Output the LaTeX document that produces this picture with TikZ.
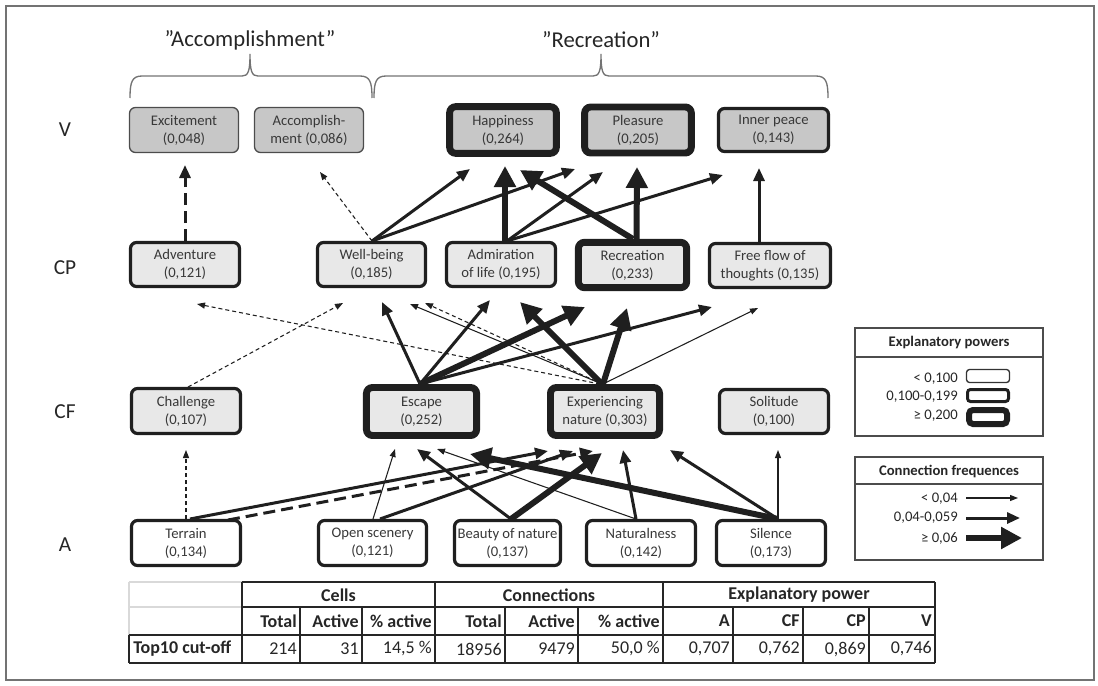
\documentclass[tikz,border=0pt]{standalone}
\usepackage{fontspec}
\setmainfont{Carlito}
\usetikzlibrary{arrows.meta,calc}
\newcommand\fnNode{\fontsize{11}{13.5}\selectfont}
\newcommand\fnRow{\fontsize{16}{19}\selectfont}
\newcommand\fnTitle{\fontsize{17}{20}\selectfont}
\newcommand\fnLeg{\fontsize{11}{13}\selectfont}
\newcommand\fnTab{\fontsize{13.5}{16}\selectfont}

\begin{document}
% one coordinate unit = 0.75pt, y axis pointing down
\begin{tikzpicture}[x=0.75pt,y=-0.75pt,
  cellbox/.style={rounded corners=4.5pt, align=center, font=\fnNode, text=black!78, inner sep=0pt},
  epLow/.style={draw=black!70, line width=1pt},
  epMid/.style={draw=black!88, line width=2.4pt},
  epHigh/.style={draw=black!88, line width=5.2pt},
  vfill/.style={fill=black!22},
  cfill/.style={fill=black!9},
  afill/.style={fill=white},
  con/.style={draw=black!88},
  conThin/.style={con, line width=0.8pt, -{Triangle[length=6pt,width=4.5pt]}},
  conMed/.style={con, line width=2.25pt, -{Triangle[length=9.75pt,width=8.25pt]}},
  conBig/.style={con, line width=4.5pt, -{Triangle[length=15.75pt,width=15.75pt]}},
  dashThin/.style={dash pattern=on 3pt off 2.25pt},
  dashMed/.style={dash pattern=on 9pt off 4.5pt},
  brace/.style={draw=black!55, line width=1pt},
  rowlab/.style={font=\fnRow, text=black!85},
  leglab/.style={font=\fnLeg, text=black!85, anchor=east, inner sep=0pt},
  legbox/.style={draw=black!70, line width=1pt},
  tabtxt/.style={font=\fnTab, text=black!85, inner sep=0pt},
  tabr/.style={tabtxt, anchor=east},
  tabThick/.style={draw=black!85, line width=2pt},
  tabThin/.style={draw=black!85, line width=1.2pt},
  tabLight/.style={draw=black!15, line width=1.1pt}
]
\useasboundingbox (0,0) rectangle (1098,685);
\draw[black!55, line width=1.1pt] (6,6) rectangle (1094,680);

% group titles and braces
\node[font=\fnTitle, text=black!85] (tAcc) at (250,40) {”Accomplishment”};
\node[font=\fnTitle, text=black!85] (tRec) at (601,40) {”Recreation”};
\draw[brace] (130,98) .. controls (130,82) and (132,76) .. (142,76) -- (242,76)
  .. controls (248,76) and (250,72) .. (250,54) .. controls (250,72) and (252,76) .. (258,76)
  -- (360,76) .. controls (370,76) and (372,82) .. (372,98);
\draw[brace] (374,98) .. controls (374,82) and (376,76) .. (386,76) -- (593,76)
  .. controls (599,76) and (601,72) .. (601,54) .. controls (601,72) and (603,76) .. (609,76)
  -- (816,76) .. controls (826,76) and (828,82) .. (828,98);

% level labels
\node[rowlab] (lV) at (65,130) {V};
\node[rowlab] (lCP) at (65,268) {CP};
\node[rowlab] (lCF) at (65,412) {CF};
\node[rowlab] (lA) at (65,545) {A};

% values
\node[cellbox,epLow,vfill,minimum width=81.75pt,minimum height=33.75pt] (exc) at (184,130) {Excitement\\(0,048)};
\node[cellbox,epLow,vfill,minimum width=81.75pt,minimum height=33.75pt] (acc) at (309,130) {Accomplish-\\ment (0,086)};
\node[cellbox,epHigh,vfill,minimum width=80pt,minimum height=35pt] (hap) at (503,130) {Happiness\\(0,264)};
\node[cellbox,epHigh,vfill,minimum width=80pt,minimum height=34.5pt] (ple) at (638,130) {Pleasure\\(0,205)};
\node[cellbox,epMid,vfill,minimum width=82.5pt,minimum height=32.25pt] (ip) at (773.5,130) {Inner peace\\(0,143)};

% consequences, psychological
\node[cellbox,epMid,cfill,minimum width=81.75pt,minimum height=33pt] (adv) at (185,264.5) {Adventure\\(0,121)};
\node[cellbox,epMid,cfill,minimum width=81pt,minimum height=33pt] (wb) at (371.5,264.5) {Well-being\\(0,185)};
\node[cellbox,epMid,cfill,minimum width=81.75pt,minimum height=33pt] (adm) at (501,264.5) {Admiration\\of life (0,195)};
\node[cellbox,epHigh,cfill,minimum width=81.2pt,minimum height=34pt] (rec) at (632.5,265) {Recreation\\(0,233)};
\node[cellbox,epMid,cfill,minimum width=90.75pt,minimum height=33pt] (ff) at (770,265.5) {Free flow of\\thoughts (0,135)};

% consequences, functional
\node[cellbox,epMid,cfill,minimum width=81.75pt,minimum height=33.75pt] (cha) at (186,411) {Challenge\\(0,107)};
\node[cellbox,epHigh,cfill,minimum width=82.6pt,minimum height=36pt] (esc) at (421.5,411.5) {Escape\\(0,252)};
\node[cellbox,epHigh,cfill,minimum width=81.8pt,minimum height=36pt] (exp) at (605,411.5) {Experiencing\\nature (0,303)};
\node[cellbox,epMid,cfill,minimum width=81.75pt,minimum height=33pt] (sol) at (774,411.5) {Solitude\\(0,100)};

% attributes
\node[cellbox,epMid,afill,minimum width=81.75pt,minimum height=33.75pt] (ter) at (186,543) {Terrain\\(0,134)};
\node[cellbox,epMid,afill,minimum width=81pt,minimum height=33.75pt] (ops) at (372.5,543) {Open scenery\\(0,121)};
\node[cellbox,epMid,afill,minimum width=79.5pt,minimum height=33.75pt] (bea) at (507.5,543) {Beauty of nature\\(0,137)};
\node[cellbox,epMid,afill,minimum width=81.75pt,minimum height=33.75pt] (nat) at (641,543) {Naturalness\\(0,142)};
\node[cellbox,epMid,afill,minimum width=81.75pt,minimum height=33.75pt] (sil) at (771,543) {Silence\\(0,173)};

% CP -> V
\draw[conMed,dashMed] ($(adv)+(0,-23.5)$) -- ($(exc)+(1,35)$);
\draw[conThin,dashThin] ($(wb)+(0.5,-23.5)$) -- ($(acc)+(11,42)$);
\draw[conMed] ($(wb)+(0.5,-23.5)$) -- ($(hap)+(-33,39)$);
\draw[conMed] ($(wb)+(0.5,-23.5)$) -- ($(ple)+(-63,39)$);
\draw[conBig] ($(adm)+(4,-23.5)$) -- ($(hap)+(2,36)$);
\draw[conMed] ($(adm)+(6,-23.5)$) -- ($(ple)+(-35,42)$);
\draw[conMed] ($(adm)+(6,-23.5)$) -- ($(ip)+(-50.5,45)$);
\draw[conBig] ($(rec)+(0.5,-26)$) -- ($(hap)+(17,40)$);
\draw[conBig] ($(rec)+(4,-26)$) -- ($(ple)+(-1,37)$);
\draw[conMed] ($(ff)+(-11,-23.5)$) -- ($(ip)+(-14.5,38)$);

% CF -> CP
\draw[conThin,dashThin] ($(cha)+(2,-24)$) -- ($(wb)+(-28.5,38.5)$);
\draw[conThin,dashThin] ($(exp)+(-5,-27.5)$) -- ($(adv)+(12,39.5)$);
\draw[conMed] ($(esc)+(-1.5,-27.5)$) -- ($(wb)+(10.5,37.5)$);
\draw[conMed] ($(esc)+(-1.5,-27.5)$) -- ($(adm)+(-11,35.5)$);
\draw[conBig] ($(esc)+(-1.5,-27.5)$) -- ($(rec)+(-47.5,42)$);
\draw[conMed] ($(esc)+(-1.5,-27.5)$) -- ($(ff)+(-58,41.5)$);
\draw[conThin] ($(exp)+(-3,-27.5)$) -- ($(wb)+(38.5,39.5)$);
\draw[conThin,dashThin] ($(exp)+(-3,-27.5)$) -- ($(wb)+(53.5,38.5)$);
\draw[conBig] ($(exp)+(-3,-27.5)$) -- ($(adm)+(19,37.5)$);
\draw[conBig] ($(exp)+(-2,-27.5)$) -- ($(rec)+(-5.5,43)$);
\draw[conThin] ($(exp)+(-2,-27.5)$) -- ($(ff)+(-12,42.5)$);

% A -> CF
\draw[conThin,dashThin] ($(ter)+(0,-24)$) -- ($(cha)+(0,39)$);
\draw[conMed,dashMed] ($(ter)+(42,-23)$) -- ($(exp)+(-12,39.5)$);
\draw[conMed] ($(ter)+(4,-24)$) -- ($(exp)+(-57,39.5)$);
\draw[conThin] ($(ops)+(0.5,-24)$) -- ($(esc)+(-26.5,37.5)$);
\draw[conMed] ($(ops)+(7.5,-24)$) -- ($(exp)+(-32,39.5)$);
\draw[conMed] ($(bea)+(3.5,-24)$) -- ($(esc)+(-4.5,37.5)$);
\draw[conBig] ($(bea)+(3.5,-24)$) -- ($(exp)+(-3,41.5)$);
\draw[conThin] ($(nat)+(-5,-24)$) -- ($(esc)+(15.5,37.5)$);
\draw[conMed] ($(nat)+(-5,-24)$) -- ($(exp)+(18,38.5)$);
\draw[conBig] ($(sil)+(7,-24)$) -- ($(esc)+(48.5,42.5)$);
\draw[conMed] ($(sil)+(7,-24)$) -- ($(exp)+(65,38.5)$);
\draw[conThin] ($(sil)+(7,-24)$) -- ($(sol)+(4,38.5)$);

% legend: explanatory powers
\draw[legbox] (855,328) rectangle (1043,436);
\draw[legbox] (855,357) -- (1043,357);
\node[font=\fnLeg\bfseries, text=black!85] (lgT1) at (949,343) {Explanatory powers};
\node[leglab] (lgE1) at (958,379) {< 0,100};
\node[leglab] (lgE2) at (958,397) {0,100-0,199};
\node[leglab] (lgE3) at (958,416) {≥ 0,200};
\node[draw=black!80, line width=1pt, rounded corners=2.25pt, minimum width=32.25pt, minimum height=9.75pt, inner sep=0pt] (lgB1) at (988,376) {};
\node[draw=black!88, line width=2.25pt, rounded corners=2.25pt, minimum width=30.75pt, minimum height=9pt, inner sep=0pt] (lgB2) at (988,395.5) {};
\node[draw=black!88, line width=4.5pt, rounded corners=3pt, minimum width=28.5pt, minimum height=10.5pt, inner sep=0pt] (lgB3) at (988,417) {};

% legend: connection frequences
\draw[legbox] (855,457) rectangle (1043,560);
\draw[legbox] (855,484) -- (1043,484);
\node[font=\fnLeg\bfseries, text=black!85] (lgT2) at (949,471) {Connection frequences};
\node[leglab] (lgC1) at (958,499) {< 0,04};
\node[leglab] (lgC2) at (958,518) {0,04-0,059};
\node[leglab] (lgC3) at (958,538) {≥ 0,06};
\coordinate (la1) at (966,498); \coordinate (lb1) at (1018,498);
\coordinate (la2) at (966,518); \coordinate (lb2) at (1020,518);
\coordinate (la3) at (966,538); \coordinate (lb3) at (1022,538);
\draw[conThin] (la1) -- (lb1);
\draw[conMed] (la2) -- (lb2);
\draw[conBig] (la3) -- (lb3);

% summary table
\draw[tabLight] (129,582) -- (242,582);
\draw[tabLight] (129,582) -- (129,635);
\draw[tabLight] (129,607) -- (242,607);
\foreach \xv in {300,362,505,578,733,803,869}
  \draw[tabThin] (\xv,607) -- (\xv,663);
\draw[tabThick] (242,582) -- (935,582);
\draw[tabThick] (242,607) -- (935,607);
\draw[tabThick] (129,635) -- (935,635);
\draw[tabThick] (129,663) -- (935,663);
\draw[tabThick] (129,635) -- (129,663);
\foreach \xv in {242,435,663,935}
  \draw[tabThick] (\xv,582) -- (\xv,663);

\node[tabtxt,font=\fnTab\bfseries] (hCells) at (338.5,595) {Cells};
\node[tabtxt,font=\fnTab\bfseries] (hConn) at (549,595) {Connections};
\node[tabtxt,font=\fnTab\bfseries] (hExpl) at (799,595) {Explanatory power};

\node[tabr,font=\fnTab\bfseries] (s1) at (297,621) {Total};
\node[tabr,font=\fnTab\bfseries] (s2) at (359,621) {Active};
\node[tabr,font=\fnTab\bfseries] (s3) at (432,621) {\% active};
\node[tabr,font=\fnTab\bfseries] (s4) at (502,621) {Total};
\node[tabr,font=\fnTab\bfseries] (s5) at (575,621) {Active};
\node[tabr,font=\fnTab\bfseries] (s6) at (660,621) {\% active};
\node[tabr,font=\fnTab\bfseries] (s7) at (730,621) {A};
\node[tabr,font=\fnTab\bfseries] (s8) at (800,621) {CF};
\node[tabr,font=\fnTab\bfseries] (s9) at (866,621) {CP};
\node[tabr,font=\fnTab\bfseries] (s10) at (932,621) {V};

\node[tabtxt,font=\fnTab\bfseries,anchor=west] (rTop) at (133,649) {Top10 cut-off};
\node[tabr] (v1) at (297,649) {214};
\node[tabr] (v2) at (359,649) {31};
\node[tabr] (v3) at (432,649) {14,5 \%};
\node[tabr] (v4) at (502,649) {18956};
\node[tabr] (v5) at (575,649) {9479};
\node[tabr] (v6) at (660,649) {50,0 \%};
\node[tabr] (v7) at (730,649) {0,707};
\node[tabr] (v8) at (800,649) {0,762};
\node[tabr] (v9) at (866,649) {0,869};
\node[tabr] (v10) at (932,649) {0,746};
\end{tikzpicture}
\end{document}
